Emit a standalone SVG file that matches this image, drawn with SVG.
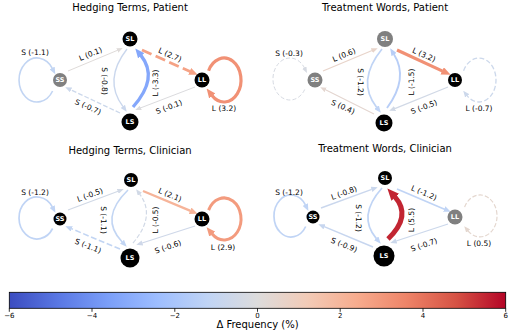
<svg xmlns="http://www.w3.org/2000/svg" width="512" height="336" viewBox="0 0 512 336">
<style>
.t{font-family:"DejaVu Sans",sans-serif;font-size:10px;text-anchor:middle;fill:#000}
.el{font-family:"DejaVu Sans",sans-serif;font-size:7.5px;text-anchor:middle;dominant-baseline:central;fill:#000}
.nl{font-family:"DejaVu Sans",sans-serif;font-size:6.5px;font-weight:bold;fill:#fff;text-anchor:middle;dominant-baseline:central}
.tk{font-family:"DejaVu Sans",sans-serif;font-size:7px;text-anchor:middle;fill:#000}
.e{fill:none}
.blk{fill:#000}
.gry{fill:#808080}
</style>
<defs>
<linearGradient id="cw" x1="0" y1="0" x2="1" y2="0">
<stop offset="0" stop-color="#3b4cc0"/><stop offset="0.1" stop-color="#5a78e4"/><stop offset="0.2" stop-color="#7b9ff9"/><stop offset="0.3" stop-color="#9ebeff"/><stop offset="0.4" stop-color="#c0d4f5"/><stop offset="0.5" stop-color="#dddcdc"/><stop offset="0.6" stop-color="#f2cbb7"/><stop offset="0.7" stop-color="#f7ac8e"/><stop offset="0.8" stop-color="#ee8468"/><stop offset="0.9" stop-color="#d65244"/><stop offset="1" stop-color="#b40426"/>
</linearGradient>
<path id="ah" d="M0,0L10,5L0,10z"/>
<marker id="m1a" viewBox="0 0 10 10" refX="0.5" refY="5" markerUnits="userSpaceOnUse" markerWidth="6" markerHeight="4.9" orient="auto" preserveAspectRatio="none"><path d="M0,0L10,5L0,10z" fill="#dfdbd9"/></marker>
<marker id="m1b" viewBox="0 0 10 10" refX="0.5" refY="5" markerUnits="userSpaceOnUse" markerWidth="6.45" markerHeight="5.3" orient="auto" preserveAspectRatio="none"><path d="M0,0L10,5L0,10z" fill="#ccd8eb"/></marker>
<marker id="m1c" viewBox="0 0 10 10" refX="0.5" refY="5" markerUnits="userSpaceOnUse" markerWidth="8.7" markerHeight="7.4" orient="auto" preserveAspectRatio="none"><path d="M0,0L10,5L0,10z" fill="#f5a285"/></marker>
<marker id="m1d" viewBox="0 0 10 10" refX="0.5" refY="5" markerUnits="userSpaceOnUse" markerWidth="6" markerHeight="4.9" orient="auto" preserveAspectRatio="none"><path d="M0,0L10,5L0,10z" fill="#dbdbde"/></marker>
<marker id="m1e" viewBox="0 0 10 10" refX="0.5" refY="5" markerUnits="userSpaceOnUse" markerWidth="6.6" markerHeight="5.5" orient="auto" preserveAspectRatio="none"><path d="M0,0L10,5L0,10z" fill="#cad7ed"/></marker>
<marker id="m1f" viewBox="0 0 10 10" refX="0.5" refY="5" markerUnits="userSpaceOnUse" markerWidth="9.45" markerHeight="8.1" orient="auto" preserveAspectRatio="none"><path d="M0,0L10,5L0,10z" fill="#84a7fb"/></marker>
<marker id="m1g" viewBox="0 0 10 10" refX="0.5" refY="5" markerUnits="userSpaceOnUse" markerWidth="6.9" markerHeight="5.7" orient="auto" preserveAspectRatio="none"><path d="M0,0L10,5L0,10z" fill="#c2d5f3"/></marker>
<marker id="m1h" viewBox="0 0 10 10" refX="0.5" refY="5" markerUnits="userSpaceOnUse" markerWidth="9.3" markerHeight="8" orient="auto" preserveAspectRatio="none"><path d="M0,0L10,5L0,10z" fill="#f19175"/></marker>
<marker id="m2a" viewBox="0 0 10 10" refX="0.5" refY="5" markerUnits="userSpaceOnUse" markerWidth="6.4" markerHeight="5.25" orient="auto" preserveAspectRatio="none"><path d="M0,0L10,5L0,10z" fill="#e8d4ca"/></marker>
<marker id="m2b" viewBox="0 0 10 10" refX="0.5" refY="5" markerUnits="userSpaceOnUse" markerWidth="6.15" markerHeight="5.05" orient="auto" preserveAspectRatio="none"><path d="M0,0L10,5L0,10z" fill="#e4d6d0"/></marker>
<marker id="m2d" viewBox="0 0 10 10" refX="0.5" refY="5" markerUnits="userSpaceOnUse" markerWidth="6.3" markerHeight="5.2" orient="auto" preserveAspectRatio="none"><path d="M0,0L10,5L0,10z" fill="#d1d9e6"/></marker>
<marker id="mB17" viewBox="0 0 10 10" refX="0.5" refY="5" markerUnits="userSpaceOnUse" markerWidth="7.05" markerHeight="5.9" orient="auto" preserveAspectRatio="none"><path d="M0,0L10,5L0,10z" fill="#c0d4f5"/></marker>
<marker id="m2f" viewBox="0 0 10 10" refX="0.5" refY="5" markerUnits="userSpaceOnUse" markerWidth="7.35" markerHeight="6.15" orient="auto" preserveAspectRatio="none"><path d="M0,0L10,5L0,10z" fill="#b8cef7"/></marker>
<marker id="m2g" viewBox="0 0 10 10" refX="0.5" refY="5" markerUnits="userSpaceOnUse" markerWidth="6" markerHeight="4.9" orient="auto" preserveAspectRatio="none"><path d="M0,0L10,5L0,10z" fill="#d6dae2"/></marker>
<marker id="m2h" viewBox="0 0 10 10" refX="0.5" refY="5" markerUnits="userSpaceOnUse" markerWidth="6.45" markerHeight="5.3" orient="auto" preserveAspectRatio="none"><path d="M0,0L10,5L0,10z" fill="#ccd8eb"/></marker>
<marker id="m3c" viewBox="0 0 10 10" refX="0.5" refY="5" markerUnits="userSpaceOnUse" markerWidth="8.1" markerHeight="6.85" orient="auto" preserveAspectRatio="none"><path d="M0,0L10,5L0,10z" fill="#f6b499"/></marker>
<marker id="m3d" viewBox="0 0 10 10" refX="0.5" refY="5" markerUnits="userSpaceOnUse" markerWidth="6.4" markerHeight="5.25" orient="auto" preserveAspectRatio="none"><path d="M0,0L10,5L0,10z" fill="#cfd8e9"/></marker>
<marker id="m3h" viewBox="0 0 10 10" refX="0.5" refY="5" markerUnits="userSpaceOnUse" markerWidth="9" markerHeight="7.7" orient="auto" preserveAspectRatio="none"><path d="M0,0L10,5L0,10z" fill="#f39b7e"/></marker>
<marker id="m4a" viewBox="0 0 10 10" refX="0.5" refY="5" markerUnits="userSpaceOnUse" markerWidth="6.6" markerHeight="5.5" orient="auto" preserveAspectRatio="none"><path d="M0,0L10,5L0,10z" fill="#cad7ed"/></marker>
<marker id="m4b" viewBox="0 0 10 10" refX="0.5" refY="5" markerUnits="userSpaceOnUse" markerWidth="6.75" markerHeight="5.6" orient="auto" preserveAspectRatio="none"><path d="M0,0L10,5L0,10z" fill="#c7d6ef"/></marker>
<marker id="m4f" viewBox="0 0 10 10" refX="0.5" refY="5" markerUnits="userSpaceOnUse" markerWidth="11.85" markerHeight="10.4" orient="auto" preserveAspectRatio="none"><path d="M0,0L10,5L0,10z" fill="#c22532"/></marker>
<marker id="m4h" viewBox="0 0 10 10" refX="0.5" refY="5" markerUnits="userSpaceOnUse" markerWidth="6.3" markerHeight="5.2" orient="auto" preserveAspectRatio="none"><path d="M0,0L10,5L0,10z" fill="#e4d7cf"/></marker>
</defs>
<rect width="512" height="336" fill="#fff"/>

<!-- Titles -->
<text class="t" x="130" y="11">Hedging Terms, Patient</text>
<text class="t" x="385" y="11">Treatment Words, Patient</text>
<text class="t" x="130" y="153.5">Hedging Terms, Clinician</text>
<text class="t" x="385" y="152">Treatment Words, Clinician</text>

<!-- Connectors -->
<g id="connectors">
 <!-- Panel 1 -->
 <path class="e" d="M52.6,91 A18,22 0 1,1 52.3,68.3" stroke="#c2d5f3" stroke-width="1.6" marker-end="url(#m1g)"/>
 <path class="e" d="M68,71 L117.5,50.3" stroke="#dfdbd9" stroke-width="1" marker-end="url(#m1a)"/>
 <path class="e" d="M120,113 L70.8,89.8" stroke="#ccd8eb" stroke-width="1.3" stroke-dasharray="4.8 2.1" marker-end="url(#m1b)"/>
 <path class="e" d="M127,49 Q103,80 123,106.7" stroke="#cad7ed" stroke-width="1.4" marker-end="url(#m1e)"/>
 <path class="e" d="M133,107 Q159,78 140.9,55.4" stroke="#84a7fb" stroke-width="3.3" marker-end="url(#m1f)"/>
 <path class="e" d="M142,50 L190.1,71.5" stroke="#f5a285" stroke-width="2.8" stroke-dasharray="10.4 4.5" marker-end="url(#m1c)"/>
 <path class="e" d="M195,87 L140.6,107.9" stroke="#dbdbde" stroke-width="1" marker-end="url(#m1d)"/>
 <path class="e" d="M208.6,70.7 A17,22 0 1,1 212,95.6" stroke="#f19175" stroke-width="3.2" marker-end="url(#m1h)"/>
 <!-- Panel 2 -->
 <path class="e" d="M304.7,89.5 A17,21 0 1,1 304.4,67.9" stroke="#d6dae2" stroke-width="1" stroke-dasharray="4 2.2" marker-end="url(#m2g)"/>
 <path class="e" d="M323,71 L372.1,50.5" stroke="#e8d4ca" stroke-width="1.25" marker-end="url(#m2a)"/>
 <path class="e" d="M374,114 L325.5,89.8" stroke="#e4d6d0" stroke-width="1.1" marker-end="url(#m2b)"/>
 <path class="e" d="M382,49 Q356,81 376.7,107.4" stroke="#c0d4f5" stroke-width="1.7" marker-end="url(#mB17)"/>
 <path class="e" d="M387,108 Q409,78 393.9,54.2" stroke="#b8cef7" stroke-width="1.9" marker-end="url(#m2f)"/>
 <path class="e" d="M397,50 L442.6,71.1" stroke="#f19175" stroke-width="3.2" marker-end="url(#m1h)"/>
 <path class="e" d="M448,87 L394.8,108.6" stroke="#d1d9e6" stroke-width="1.2" marker-end="url(#m2d)"/>
 <path class="e" d="M463.6,70.7 A17,22 0 1,1 467,95.6" stroke="#ccd8eb" stroke-width="1.3" stroke-dasharray="4.8 2.4" marker-end="url(#m2h)"/>
 <!-- Panel 3 -->
 <path class="e" d="M52.6,228.5 A18,21 0 1,1 52.3,206.9" stroke="#c0d4f5" stroke-width="1.7" marker-end="url(#mB17)"/>
 <path class="e" d="M68,210 L118.1,191.2" stroke="#d1d9e6" stroke-width="1.2" marker-end="url(#m2d)"/>
 <path class="e" d="M120,249 L71.4,228.7" stroke="#c2d5f3" stroke-width="1.6" stroke-dasharray="5.9 2.6" marker-end="url(#m1g)"/>
 <path class="e" d="M128,190 Q99,218 122.2,242" stroke="#c2d5f3" stroke-width="1.6" marker-end="url(#m1g)"/>
 <path class="e" d="M133,243 Q156,216 139.7,194.1" stroke="#d1d9e6" stroke-width="1.2" stroke-dasharray="4.4 2" marker-end="url(#m2d)"/>
 <path class="e" d="M143,191 L190.5,210.9" stroke="#f6b499" stroke-width="2.4" marker-end="url(#m3c)"/>
 <path class="e" d="M195,226 L142.1,243" stroke="#cfd8e9" stroke-width="1.25" marker-end="url(#m3d)"/>
 <path class="e" d="M208.6,210.1 A17,21 0 1,1 212,233.8" stroke="#f39b7e" stroke-width="3" marker-end="url(#m3h)"/>
 <!-- Panel 4 -->
 <path class="e" d="M305.7,226.5 A17,21 0 1,1 305.4,204.9" stroke="#c0d4f5" stroke-width="1.7" marker-end="url(#mB17)"/>
 <path class="e" d="M321,208 L371.8,189.3" stroke="#cad7ed" stroke-width="1.4" marker-end="url(#m4a)"/>
 <path class="e" d="M373,247 L324.2,226.6" stroke="#c7d6ef" stroke-width="1.5" marker-end="url(#m4b)"/>
 <path class="e" d="M382,188 Q357,216 376.4,238.6" stroke="#c0d4f5" stroke-width="1.7" marker-end="url(#mB17)"/>
 <path class="e" d="M388,239 Q412,216 394.9,196.9" stroke="#c22532" stroke-width="4.9" marker-end="url(#m4f)"/>
 <path class="e" d="M397,189 L444.5,209.2" stroke="#c0d4f5" stroke-width="1.7" marker-end="url(#mB17)"/>
 <path class="e" d="M448,224 L396.1,241" stroke="#ccd8eb" stroke-width="1.3" marker-end="url(#m2h)"/>
 <path class="e" d="M464.6,207.1 A17,21 0 1,1 468,230.8" stroke="#e4d7cf" stroke-width="1.2" stroke-dasharray="4.4 2" marker-end="url(#m4h)"/>
</g>

<!-- Edge labels -->
<g id="edge-labels">
 <text class="el" x="35" y="52">S (-1.1)</text>
 <text class="el" transform="translate(90.5,54) rotate(-22)">L (0.1)</text>
 <text class="el" transform="translate(88,107) rotate(24)">S (-0.7)</text>
 <text class="el" transform="translate(104,81) rotate(90)">S (-0.8)</text>
 <text class="el" transform="translate(155,83) rotate(-90)">L (-3.3)</text>
 <text class="el" transform="translate(170,55) rotate(24)">L (2.7)</text>
 <text class="el" transform="translate(169,107) rotate(-21)">S (-0.1)</text>
 <text class="el" x="224" y="108">L (3.2)</text>

 <text class="el" x="289" y="53">S (-0.3)</text>
 <text class="el" transform="translate(344,55) rotate(-22)">L (0.6)</text>
 <text class="el" transform="translate(343,107) rotate(24)">S (0.4)</text>
 <text class="el" transform="translate(360,82) rotate(90)">S (-1.2)</text>
 <text class="el" transform="translate(411,82) rotate(-90)">L (-1.5)</text>
 <text class="el" transform="translate(424,55) rotate(24)">L (3.2)</text>
 <text class="el" transform="translate(424,107) rotate(-21)">S (-0.5)</text>
 <text class="el" x="479" y="108">L (-0.7)</text>

 <text class="el" x="35" y="192">S (-1.2)</text>
 <text class="el" transform="translate(90,195) rotate(-20)">L (-0.5)</text>
 <text class="el" transform="translate(88,246) rotate(22)">S (-1.1)</text>
 <text class="el" transform="translate(103,220) rotate(90)">S (-1.1)</text>
 <text class="el" transform="translate(155,220) rotate(-90)">L (-0.5)</text>
 <text class="el" transform="translate(170,195) rotate(23)">L (2.1)</text>
 <text class="el" transform="translate(168,247) rotate(-19)">S (-0.6)</text>
 <text class="el" x="223" y="247">L (2.9)</text>

 <text class="el" x="289" y="192">S (-1.2)</text>
 <text class="el" transform="translate(344,193) rotate(-20)">L (-0.8)</text>
 <text class="el" transform="translate(344,245) rotate(22)">S (-0.9)</text>
 <text class="el" transform="translate(358,218) rotate(90)">S (-1.2)</text>
 <text class="el" transform="translate(411,220) rotate(-90)">L (5.5)</text>
 <text class="el" transform="translate(424,193) rotate(23)">L (-1.2)</text>
 <text class="el" transform="translate(424,245) rotate(-19)">S (-0.7)</text>
 <text class="el" x="479" y="243">L (0.5)</text>
</g>

<!-- Nodes panel 1 -->
<g id="p1-SL"><circle class="blk" cx="130" cy="39" r="7.5"/><text class="nl" x="130" y="39">SL</text></g>
<g id="p1-SS"><circle class="gry" cx="60" cy="80" r="7"/><text class="nl" x="60" y="80">SS</text></g>
<g id="p1-LL"><circle class="blk" cx="202" cy="80" r="7.5"/><text class="nl" x="202" y="80">LL</text></g>
<g id="p1-LS"><circle class="blk" cx="130" cy="122" r="8.5"/><text class="nl" x="130" y="122">LS</text></g>
<!-- Nodes panel 2 -->
<g id="p2-SL"><circle class="gry" cx="385" cy="39" r="8"/><text class="nl" x="385" y="39">SL</text></g>
<g id="p2-SS"><circle class="gry" cx="315" cy="80" r="7.5"/><text class="nl" x="315" y="80">SS</text></g>
<g id="p2-LL"><circle class="blk" cx="455" cy="80" r="7"/><text class="nl" x="455" y="80">LL</text></g>
<g id="p2-LS"><circle class="blk" cx="384" cy="123" r="8.5"/><text class="nl" x="384" y="123">LS</text></g>
<!-- Nodes panel 3 -->
<g id="p3-SL"><circle class="blk" cx="131" cy="180" r="7"/><text class="nl" x="131" y="180">SL</text></g>
<g id="p3-SS"><circle class="blk" cx="60" cy="219" r="6.5"/><text class="nl" x="60" y="219">SS</text></g>
<g id="p3-LL"><circle class="blk" cx="202" cy="219" r="7.5"/><text class="nl" x="202" y="219">LL</text></g>
<g id="p3-LS"><circle class="blk" cx="130" cy="258" r="9.5"/><text class="nl" x="130" y="258">LS</text></g>
<!-- Nodes panel 4 -->
<g id="p4-SL"><circle class="blk" cx="385" cy="178" r="7"/><text class="nl" x="385" y="178">SL</text></g>
<g id="p4-SS"><circle class="blk" cx="313" cy="217" r="6.5"/><text class="nl" x="313" y="217">SS</text></g>
<g id="p4-LL"><circle class="gry" cx="455" cy="217" r="7.5"/><text class="nl" x="455" y="217">LL</text></g>
<g id="p4-LS"><circle class="blk" cx="384" cy="256" r="10.5"/><text class="nl" x="384" y="256">LS</text></g>

<!-- Colorbar -->
<g id="colorbar">
 <rect x="9.3" y="292.3" width="496.4" height="16" fill="url(#cw)" stroke="#000" stroke-width="0.8"/>
 <g stroke="#000" stroke-width="0.8">
  <line x1="9.3" y1="308.3" x2="9.3" y2="311.8"/>
  <line x1="92" y1="308.3" x2="92" y2="311.8"/>
  <line x1="174.8" y1="308.3" x2="174.8" y2="311.8"/>
  <line x1="257.5" y1="308.3" x2="257.5" y2="311.8"/>
  <line x1="340.2" y1="308.3" x2="340.2" y2="311.8"/>
  <line x1="423" y1="308.3" x2="423" y2="311.8"/>
  <line x1="505.7" y1="308.3" x2="505.7" y2="311.8"/>
 </g>
 <text class="tk" x="9.3" y="318">−6</text>
 <text class="tk" x="92" y="318">−4</text>
 <text class="tk" x="174.8" y="318">−2</text>
 <text class="tk" x="257.5" y="318">0</text>
 <text class="tk" x="340.2" y="318">2</text>
 <text class="tk" x="423" y="318">4</text>
 <text class="tk" x="505.7" y="318">6</text>
 <text class="t" x="257.5" y="328">Δ Frequency (%)</text>
</g>
</svg>
